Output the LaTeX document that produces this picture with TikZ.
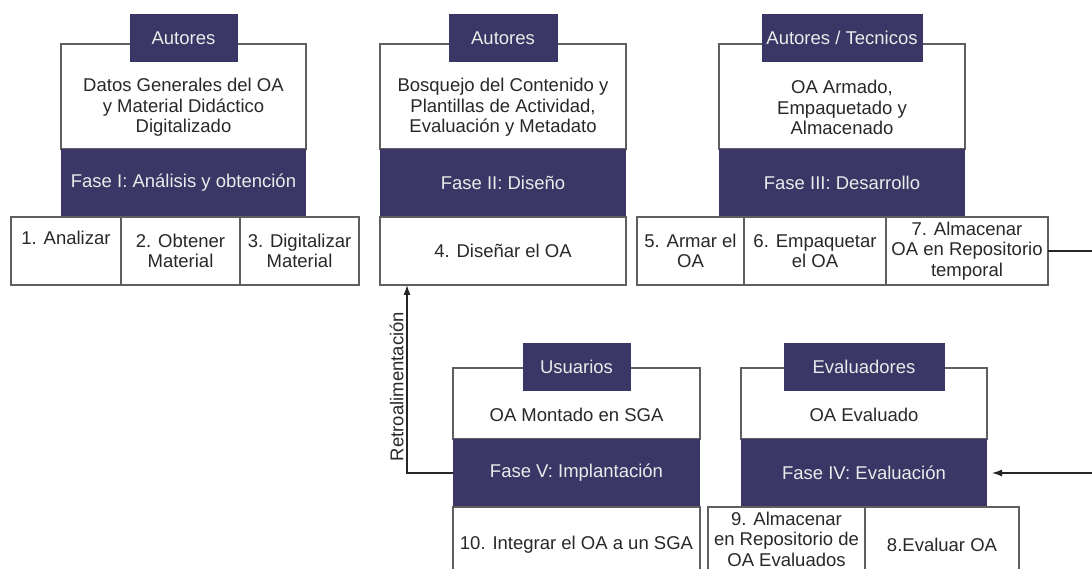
\documentclass[tikz,border=0pt]{standalone}
\usepackage{fontspec}
\setmainfont{Liberation Sans}
\usetikzlibrary{positioning,arrows.meta}
\definecolor{fasenavy}{RGB}{58,54,101}
\definecolor{boxline}{RGB}{95,95,95}
\definecolor{boxtext}{RGB}{40,40,40}
\tikzset{
  result/.style={draw=boxline,line width=1.1pt,fill=white,anchor=north west,minimum height=105,inner sep=0pt,
    label={[align=center,text=boxtext,yshift=-11]center:{#1}}},
  actor/.style={fill=fasenavy,text=white!92!black,anchor=north,minimum height=48,inner sep=0pt},
  fase/.style={fill=fasenavy,text=white!92!black,anchor=north west,minimum height=68,inner sep=0pt},
  task/.style={draw=boxline,line width=1.1pt,fill=white,text=boxtext,anchor=north west,align=center,minimum height=68,inner sep=0pt},
  arr/.style={draw=black!85,line width=1.2pt,-{Latex[length=10pt,width=7pt]}}
}

\begin{document}
\begin{tikzpicture}[x=1pt,y=-1pt,every node/.style={font=\fontsize{18.5}{20.5}\selectfont,outer sep=0pt}]
\useasboundingbox (0,0) rectangle (1092,569);
\clip (0,0) rectangle (1092,569);

% Fase I
\node[result={Datos Generales del OA\\y Material Didáctico\\Digitalizado},minimum width=245] (res1) at (61,44) {};
\node[actor,minimum width=108] (act1) at ([yshift=30]res1.north) {Autores};
\node[fase,minimum width=245] (fase1) at (res1.south west) {Fase I: Análisis y obtención};
\node[task,minimum width=110] (t1) at (11,217) {1. Analizar\\\strut};
\node[task,minimum width=119] (t2) at (t1.north east) {2. Obtener\\Material};
\node[task,minimum width=119] (t3) at (t2.north east) {3. Digitalizar\\Material};

% Fase II
\node[result={Bosquejo del Contenido y\\Plantillas de Actividad,\\Evaluación y Metadato},minimum width=246] (res2) at (380,44) {};
\node[actor,minimum width=109] (act2) at ([yshift=30]res2.north) {Autores};
\node[fase,minimum width=246] (fase2) at (res2.south west) {Fase II: Diseño};
\node[task,minimum width=246] (t4) at (fase2.south west) {4. Diseñar el OA};

% Fase III
\node[result={OA Armado,\\Empaquetado y\\Almacenado},minimum width=246] (res3) at (719,44) {};
\node[actor,minimum width=161] (act3) at ([yshift=30]res3.north) {Autores / Tecnicos};
\node[fase,minimum width=246] (fase3) at (res3.south west) {Fase III: Desarrollo};
\node[task,minimum width=107] (t5) at (637,217) {5. Armar el\\OA};
\node[task,minimum width=142] (t6) at (t5.north east) {6. Empaquetar\\el OA};
\node[task,minimum width=162] (t7) at (t6.north east) {7. Almacenar\\OA en Repositorio\\temporal};

% Fase V
\node[result={OA Montado en SGA},minimum width=247,minimum height=71] (res5) at (453,368) {};
\node[actor,minimum width=108] (act5) at ([yshift=25]res5.north) {Usuarios};
\node[fase,minimum width=247] (fase5) at (res5.south west) {Fase V: Implantación};
\node[task,minimum width=247,minimum height=76] (t10) at (fase5.south west) {10. Integrar el OA a un SGA};

% Fase IV
\node[result={OA Evaluado},minimum width=246,minimum height=71] (res4) at (741,368) {};
\node[actor,minimum width=161] (act4) at ([yshift=25]res4.north) {Evaluadores};
\node[fase,minimum width=246] (fase4) at (res4.south west) {Fase IV: Evaluación};
\node[task,minimum width=157,minimum height=64] (t9) at (708,507) {9. Almacenar\\en Repositorio de\\OA Evaluados};
\node[task,minimum width=154,minimum height=76] (t8) at (t9.north east) {8.Evaluar OA};

\coordinate (rim) at (1110,360);
\draw[arr] (fase5.west) -| node[pos=0.73,sloped,above,text=boxtext] {Retroalimentación} ([xshift=27]t4.south west);
\draw[arr,shorten >=5] (t7.east) -| (rim) |- (fase4.east);
\end{tikzpicture}
\end{document}
